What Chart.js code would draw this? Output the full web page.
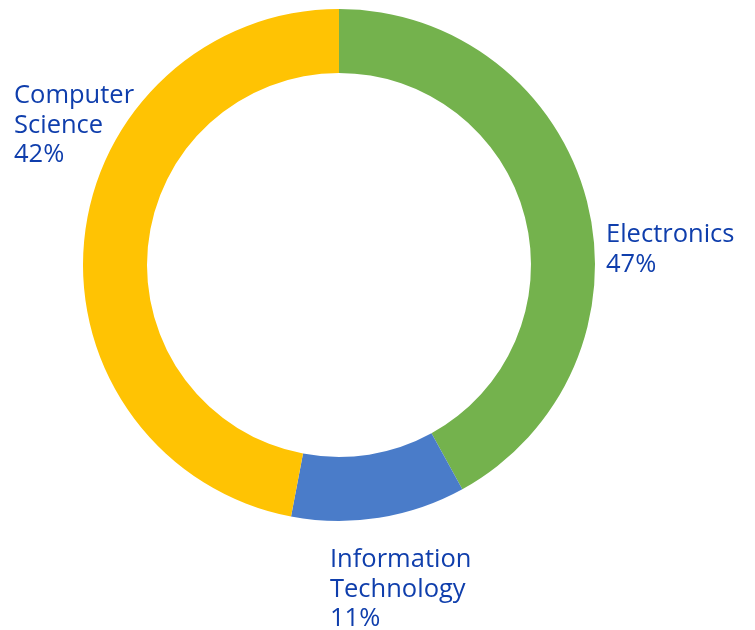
<!DOCTYPE html>
<html>
<head>
<meta charset="utf-8">
<title>Doughnut</title>
<script src="https://cdn.jsdelivr.net/npm/chart.js@4.4.1/dist/chart.umd.min.js"></script>
<style>
  html, body { margin: 0; padding: 0; background: #fff; }
  #wrap { width: 755px; height: 630px; position: relative; }
</style>
</head>
<body>
<div id="wrap"><canvas id="chart-uno" width="755" height="630"></canvas></div>
<script>
// categories, in drawing order (clockwise from the top)
var categorie = ['Electronics', 'Information Technology', 'Computer Science'];
// arc sizes as they appear in the picture (%)
var quote = [42, 11, 47];
// percentage text printed next to each slice
var etichette_percentuali = ['47%', '11%', '42%'];
// label lines for each category
var righe_etichette = [['Electronics'], ['Information', 'Technology'], ['Computer', 'Science']];
var colori = ['#74b24d', '#4a7cc9', '#ffc303'];

// where each label block starts: x, first baseline
var posizioni_etichette = [
    { x: 606, y: 242 },
    { x: 330, y: 567 },
    { x: 14, y: 103 }
];

// plugin che scrive le etichette accanto alla ciambella
var etichettePlugin = {
    id: 'etichette',
    afterDraw: function(chart) {
        var ctx = chart.ctx;
        ctx.save();
        ctx.font = '25.5px "Open Sans", sans-serif';
        ctx.fillStyle = '#0f3eac';
        ctx.textAlign = 'left';
        ctx.textBaseline = 'alphabetic';
        for (var i = 0; i < categorie.length; i++) {
            var righe = righe_etichette[i].concat([etichette_percentuali[i]]);
            var p = posizioni_etichette[i];
            for (var j = 0; j < righe.length; j++) {
                ctx.fillText(righe[j], p.x, p.y + j * 29.5);
            }
        }
        ctx.restore();
    }
};

var ctx = document.getElementById('chart-uno').getContext('2d');
var myChart = new Chart(ctx, {
    type: 'doughnut',
    data: {
        labels: categorie,
        datasets: [{
            data: quote,
            backgroundColor: colori,
            borderWidth: 0
        }]
    },
    options: {
        responsive: false,
        animation: false,
        cutout: '75%',
        layout: {
            padding: { left: 83, right: 160, top: 9, bottom: 109 }
        },
        plugins: {
            legend: { display: false },
            tooltip: { enabled: false }
        }
    },
    plugins: [etichettePlugin]
});
</script>
</body>
</html>
